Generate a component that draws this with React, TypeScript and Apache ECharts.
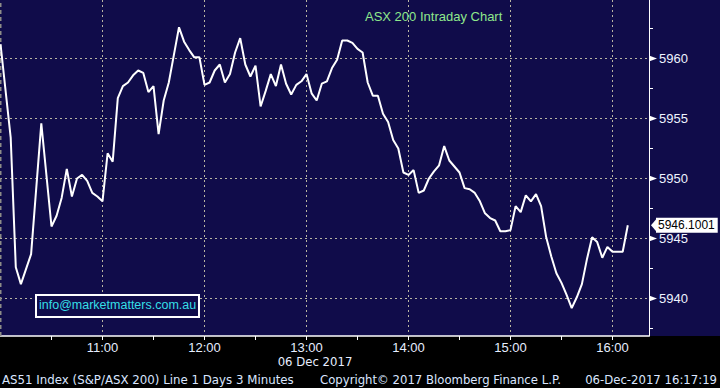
import React, { useEffect, useRef } from "react";
import * as echarts from "echarts";

const times = [
  "10:00","10:06","10:09","10:12","10:18","10:24","10:30","10:33","10:36","10:39","10:42","10:45","10:48","10:51","10:54","10:57",
  "11:00","11:03","11:06","11:09","11:12","11:15","11:18","11:21","11:24","11:27","11:30","11:33","11:36","11:39","11:42","11:45","11:48","11:51","11:54","11:57",
  "12:00","12:03","12:06","12:09","12:12","12:15","12:18","12:21","12:24","12:27","12:30","12:33","12:36","12:39","12:42","12:45","12:48","12:51","12:54","12:57",
  "13:00","13:03","13:06","13:09","13:12","13:15","13:18","13:21","13:24","13:27","13:30","13:33","13:36","13:39","13:42","13:45","13:48","13:51","13:54","13:57",
  "14:00","14:03","14:06","14:09","14:12","14:15","14:18","14:21","14:24","14:27","14:30","14:33","14:36","14:39","14:42","14:45","14:48","14:51","14:54","14:57",
  "15:00","15:03","15:06","15:09","15:12","15:15","15:18","15:21","15:24","15:27","15:30","15:33","15:36","15:39","15:42","15:45","15:48","15:51","15:54","15:57",
  "16:00","16:03","16:06","16:09"
];

const values = [
  5961.2,5953.4,5942.6,5941.2,5943.7,5954.6,5946.0,5946.9,5948.4,5950.8,5948.5,5950.0,5950.3,5949.8,5948.8,5948.5,
  5948.1,5952.1,5951.4,5956.7,5957.7,5958.0,5958.6,5959.0,5958.8,5957.2,5957.7,5953.7,5956.5,5958.0,5960.3,5962.6,5961.4,5960.7,5960.1,5960.1,
  5957.8,5958.0,5959.0,5959.5,5958.0,5958.7,5960.5,5961.7,5959.5,5958.5,5959.4,5956.0,5957.3,5958.7,5957.7,5959.5,5957.9,5957.0,5957.8,5958.1,
  5958.7,5957.1,5956.5,5957.9,5958.1,5959.2,5959.9,5961.5,5961.5,5961.3,5960.8,5960.5,5958.0,5956.9,5956.9,5955.4,5954.7,5953.2,5952.5,5950.5,
  5950.3,5950.7,5948.8,5949.0,5950.0,5950.6,5951.1,5952.7,5951.5,5951.0,5950.5,5949.2,5949.1,5948.8,5948.1,5947.1,5946.7,5946.5,5945.6,5945.6,
  5945.7,5947.7,5947.2,5948.6,5948.1,5948.7,5947.7,5945.1,5943.5,5942.1,5941.3,5940.3,5939.2,5940.1,5941.2,5943.3,5945.1,5944.7,5943.4,5944.3,
  5943.9,5943.9,5943.9,5946.1001
];

const lastLabel = "5946.1001";
const yLabelValues = [5940, 5945, 5950, 5955, 5960];
const yTickValues = [5937.5, 5940, 5942.5, 5945, 5947.5, 5950, 5952.5, 5955, 5957.5, 5960, 5962.5];
const xLabelTimes = ["11:00", "12:00", "13:00", "14:00", "15:00", "16:00"];
const xTickTimes = ["10:30", "11:00", "11:30", "12:00", "12:30", "13:00", "13:30", "14:00", "14:30", "15:00", "15:30", "16:00"];
const vGridTimes = ["11:00", "12:00", "13:00", "14:00", "15:00", "16:00"];
const hGridValues = [5940, 5945, 5950, 5955, 5960];

const titleText = "ASX 200 Intraday Chart";
const dateText = "06 Dec 2017";
const emailText = "info@marketmatters.com.au";
const footerLeft = "AS51 Index (S&P/ASX 200) Line 1 Days 3 Minutes";
const footerMid = "Copyright\u00A9 2017 Bloomberg Finance L.P.";
const footerRight = "06-Dec-2017 16:17:19";

const toMin = (t: string) => {
  const [h, m] = t.split(":").map(Number);
  return (h - 10) * 60 + m;
};
const fmtMin = (v: number) => {
  const r = Math.round(v);
  const h = 10 + Math.floor(r / 60);
  const m = r % 60;
  return `${h}:${m < 10 ? "0" + m : m}`;
};

export default function App() {
  const ref = useRef<HTMLDivElement>(null);
  useEffect(() => {
    if (!ref.current) return;
    const chart = echarts.init(ref.current, null, { renderer: "svg" });
    const pts = times.map((t, i) => [toMin(t), values[i]]);
    const lastPt = pts[pts.length - 1];
    const gridColor = "#b9b5a2";
    const xMin = -0.294;
    const xMax = 381.47;
    const yMin = 5936.875;
    const yMax = 5964.875;
    const staticGraphics: any[] = [
      {
        type: "rect",
        left: 35,
        top: 294,
        shape: { width: 163, height: 22 },
        style: { fill: "#100c4a", stroke: "#ffffff", lineWidth: 2 },
        z: 10,
      },
      {
        type: "text",
        left: 39,
        top: 298,
        style: { text: emailText, fill: "#35dfe6", fontSize: 12.5, fontFamily: "Liberation Sans" },
        z: 11,
      },
      {
        type: "text",
        x: 315,
        y: 362,
        style: { text: dateText, fill: "#e6eeff", fontSize: 11.7, fontFamily: "DejaVu Sans", align: "center", verticalAlign: "middle" },
      },
      {
        type: "text",
        x: 2,
        y: 380,
        style: { text: footerLeft, fill: "#dbe6ff", fontSize: 11.8, fontFamily: "DejaVu Sans", align: "left", verticalAlign: "middle" },
      },
      {
        type: "text",
        x: 320,
        y: 380,
        style: { text: footerMid, fill: "#dbe6ff", fontSize: 11.7, fontFamily: "DejaVu Sans", align: "left", verticalAlign: "middle" },
      },
      {
        type: "text",
        x: 717,
        y: 380,
        style: { text: footerRight, fill: "#dbe6ff", fontSize: 11.7, fontFamily: "DejaVu Sans", align: "right", verticalAlign: "middle" },
      },
    ];
    const option: any = {
      animation: false,
      backgroundColor: "transparent",
      textStyle: { fontFamily: "Liberation Sans" },
      title: {
        text: titleText,
        left: 365,
        top: 10,
        padding: 0,
        textStyle: { color: "#8fe88c", fontSize: 13, fontWeight: "normal", fontFamily: "Liberation Sans" },
      },
      grid: { left: 0, top: 0, width: 649, height: 336, containLabel: false },
      xAxis: {
        type: "value",
        min: xMin,
        max: xMax,
        axisLine: { show: true, onZero: false, lineStyle: { color: "#ffffff", width: 1.5 } },
        axisTick: {
          show: true,
          customValues: xTickTimes.map(toMin),
          length: 4,
          lineStyle: { color: "#ffffff", width: 1 },
        },
        axisLabel: {
          show: true,
          customValues: xLabelTimes.map(toMin),
          formatter: (v: number) => fmtMin(v),
          color: "#e6eeff",
          fontSize: 13,
          margin: 5,
          fontFamily: "Liberation Sans",
        },
        splitLine: { show: false },
      },
      yAxis: {
        type: "value",
        position: "right",
        min: yMin,
        max: yMax,
        axisLine: { show: true, onZero: false, lineStyle: { color: "#ffffff", width: 1 } },
        axisTick: {
          show: true,
          customValues: yTickValues,
          length: 4,
          lineStyle: { color: "#ffffff", width: 1 },
        },
        axisLabel: {
          show: true,
          customValues: yLabelValues,
          margin: 10,
          formatter: (v: number) => String(Math.round(v)),
          color: "#eef3ff",
          fontSize: 13,
          fontFamily: "Liberation Sans",
        },
        splitLine: { show: false },
      },
      series: [
        {
          type: "line",
          name: "edge",
          data: [[toMin("10:00"), yMin], [toMin("10:00"), yMax]],
          z: 1,
          symbol: "none",
          silent: true,
          clip: false,
          lineStyle: { color: "#8d8c88", width: 2, type: [4, 3] },
        },
        {
          type: "line",
          name: "AS51",
          data: pts,
          z: 3,
          symbol: "none",
          silent: true,
          lineStyle: { color: "#ffffff", width: 2 },
          markLine: {
            silent: true,
            symbol: ["none", "none"],
            data: [
              {
                yAxis: lastPt[1],
                lineStyle: { color: "transparent", width: 0 },
                label: {
                  show: true,
                  position: "end",
                  distance: 7,
                  formatter: lastLabel,
                  color: "#000000",
                  backgroundColor: "#ffffff",
                  fontSize: 12,
                  fontFamily: "Liberation Sans",
                  padding: [2, 3, 1, 2],
                },
              },
            ],
          },
        },
      ],
      graphic: staticGraphics,
    };
    chart.setOption(option);

    // Axis decorations positioned through the chart's own scales
    const px = (x: number) => chart.convertToPixel({ xAxisIndex: 0 }, x) as number;
    const py = (y: number) => chart.convertToPixel({ yAxisIndex: 0 }, y) as number;
    const left = px(xMin);
    const right = px(xMax);
    const top = py(yMax);
    const bottom = py(yMin);
    const crisp = (v: number) => Math.floor(v) + 0.5;
    const decor: any[] = [];
    hGridValues.forEach((v) => {
      const y = crisp(py(v));
      decor.push({
        type: "line",
        silent: true,
        z: 1,
        shape: { x1: left, y1: y, x2: right, y2: y },
        style: { stroke: gridColor, lineWidth: 1, lineDash: [2, 3] },
      });
    });
    vGridTimes.forEach((t) => {
      const x = crisp(px(toMin(t)));
      decor.push({
        type: "line",
        silent: true,
        z: 1,
        shape: { x1: x, y1: top, x2: x, y2: bottom },
        style: { stroke: gridColor, lineWidth: 1, lineDash: [2, 3] },
      });
    });
    yLabelValues.forEach((v) => {
      const y = py(v);
      decor.push({
        type: "polygon",
        silent: true,
        z: 5,
        shape: { points: [[right, y - 3], [right + 8, y], [right, y + 3]] },
        style: { fill: "#ffffff" },
      });
    });
    const ly = py(lastPt[1]);
    decor.push({
      type: "polygon",
      silent: true,
      z: 5,
      shape: { points: [[right + 2, ly], [right + 8, ly - 7], [right + 8, ly + 7]] },
      style: { fill: "#ffffff" },
    });
    chart.setOption({ graphic: [...staticGraphics, ...decor] });
    return () => chart.dispose();
  }, []);
  return (
    <div
      style={{
        position: "fixed",
        left: 0,
        top: 0,
        width: 720,
        height: 388,
        background: "linear-gradient(to bottom, #100c4a 0px, #100c4a 336px, #000000 336px, #000000 388px)",
      }}
    >
      <div ref={ref} style={{ width: 720, height: 388 }} />
    </div>
  );
}
